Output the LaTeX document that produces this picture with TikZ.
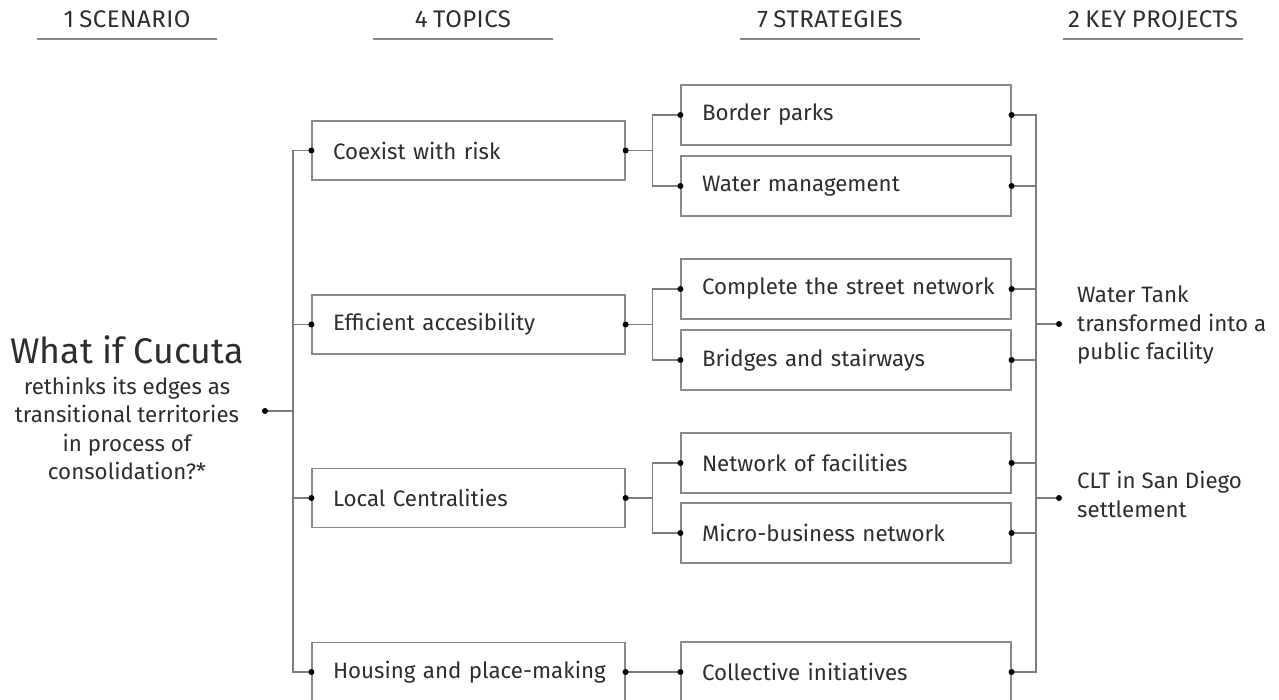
\documentclass[tikz,border=0pt]{standalone}
\usepackage{fontspec}
\setmainfont{Fira Sans}
\newfontfamily\headfont{Fira Sans}[LetterSpace=2,WordSpace=0.8]
\definecolor{ink}{HTML}{2E2E2E}
\definecolor{wire}{HTML}{7C7C7C}
\definecolor{frame}{HTML}{8A8A8A}
\begin{document}
\begin{tikzpicture}[x=1pt,y=-1pt,
  wire/.style={draw=wire, line width=1.3pt},
  rule/.style={draw=wire!90, line width=1.6pt},
  topicbox/.style={draw=frame, line width=1.2pt, minimum height=59pt,
    text width=271pt, inner xsep=21pt, inner ysep=0pt, align=left,
    font=\fontsize{22.3}{26}\selectfont, text=ink,
    % labels stay on one line even when they run into the right padding
    execute at begin node={\hbox\bgroup}, execute at end node={\egroup}},
  stratbox/.style={topicbox, minimum height=60pt, text width=288pt},
  header/.style={font=\headfont\fontsize{24}{28}\selectfont, text=ink, inner sep=0pt, anchor=base},
  body/.style={font=\fontsize{22.3}{28.5}\selectfont, text=ink, inner sep=0pt},
  junction/.style={circle, fill=black, inner sep=0pt, minimum size=6pt}
]
\useasboundingbox (0,0) rectangle (1279,700);
\fill[white] (0,0) rectangle (1279,700);

% column headers
\node[header] (h1) at (127,28) {1 SCENARIO};
\node[header] (h2) at (463,28) {4 TOPICS};
\node[header] (h3) at (830,28) {7 STRATEGIES};
\node[header] (h4) at (1153,28) {2 KEY PROJECTS};
\draw[rule] (37,39) -- (217,39);
\draw[rule] (373,39) -- (553,39);
\draw[rule] (740,39) -- (920,39);
\draw[rule] (1063,39) -- (1243,39);

% scenario
\node[font=\fontsize{35.7}{38}\selectfont, text=ink, inner sep=0pt, anchor=base] (title) at (127,363) {What if Cucuta};
\node[body, align=center, anchor=north] (scen) at (127,376.5)
  {rethinks its edges as\\transitional territories\\in process of\\consolidation?*};
\node[junction] (sd) at (265,411) {};

% topics
\node[topicbox] (t1) at (468.5,150.5) {Coexist with risk};
\node[topicbox] (t2) at (468.5,324.5) {Efficient accesibility};
\node[topicbox] (t3) at (468.5,498) {Local Centralities};
\node[topicbox] (t4) at (468.5,672) {Housing and place-making};

% strategies
\node[stratbox] (s1) at (846,115) {Border parks};
\node[stratbox] (s2) at (846,186) {Water management};
\node[stratbox] (s3) at (846,289) {Complete the street network};
\node[stratbox] (s4) at (846,360) {Bridges and stairways};
\node[stratbox] (s5) at (846,463) {Network of facilities};
\node[stratbox] (s6) at (846,533) {Micro-business network};
\node[stratbox] (s7) at (846,672) {Collective initiatives};

% key projects
\node[junction] (p1d) at (1059,324) {};
\node[junction] (p2d) at (1059,498) {};
\node[body, align=left, anchor=north west] (p1) at (1077,286)
  {Water Tank\\transformed into a\\public facility};
\node[body, align=left, anchor=north west] (p2) at (1077,471)
  {CLT in San Diego\\settlement};

% bus lines
\coordinate (lbus) at (293,0);
\coordinate (rbus) at (1036,0);

% scenario to topics
\draw[wire] (sd) -- (sd -| lbus);
\draw[wire] (t1.west) -- (t1.west -| lbus) -- (t4.west -| lbus) -- (t4.west);
\draw[wire] (t2.west) -- (t2.west -| lbus);
\draw[wire] (t3.west) -- (t3.west -| lbus);

% topics to strategies
\foreach \t/\a/\b in {t1/s1/s2, t2/s3/s4, t3/s5/s6}{
  \draw[wire] (\t.east) -- ++(27,0) coordinate (\t fork);
  \draw[wire] (\a.west) -| (\t fork) |- (\b.west);
}
\draw[wire] (t4.east) -- (s7.west);

% strategies to key projects
\draw[wire] (s1.east) -- (s1.east -| rbus) -- (s7.east -| rbus) -- (s7.east);
\foreach \s in {s2,s3,s4,s5,s6}{
  \draw[wire] (\s.east) -- (\s.east -| rbus);
}
\draw[wire] (p1d) -- (p1d -| rbus);
\draw[wire] (p2d) -- (p2d -| rbus);

% connection dots on the box edges
\foreach \n in {t1,t2,t3,t4}{
  \fill (\n.west) circle (3pt);
  \fill (\n.east) circle (3pt);
}
\foreach \n in {s1,s2,s3,s4,s5,s6,s7}{
  \fill (\n.west) circle (3pt);
  \fill (\n.east) circle (3pt);
}
\end{tikzpicture}
\end{document}
